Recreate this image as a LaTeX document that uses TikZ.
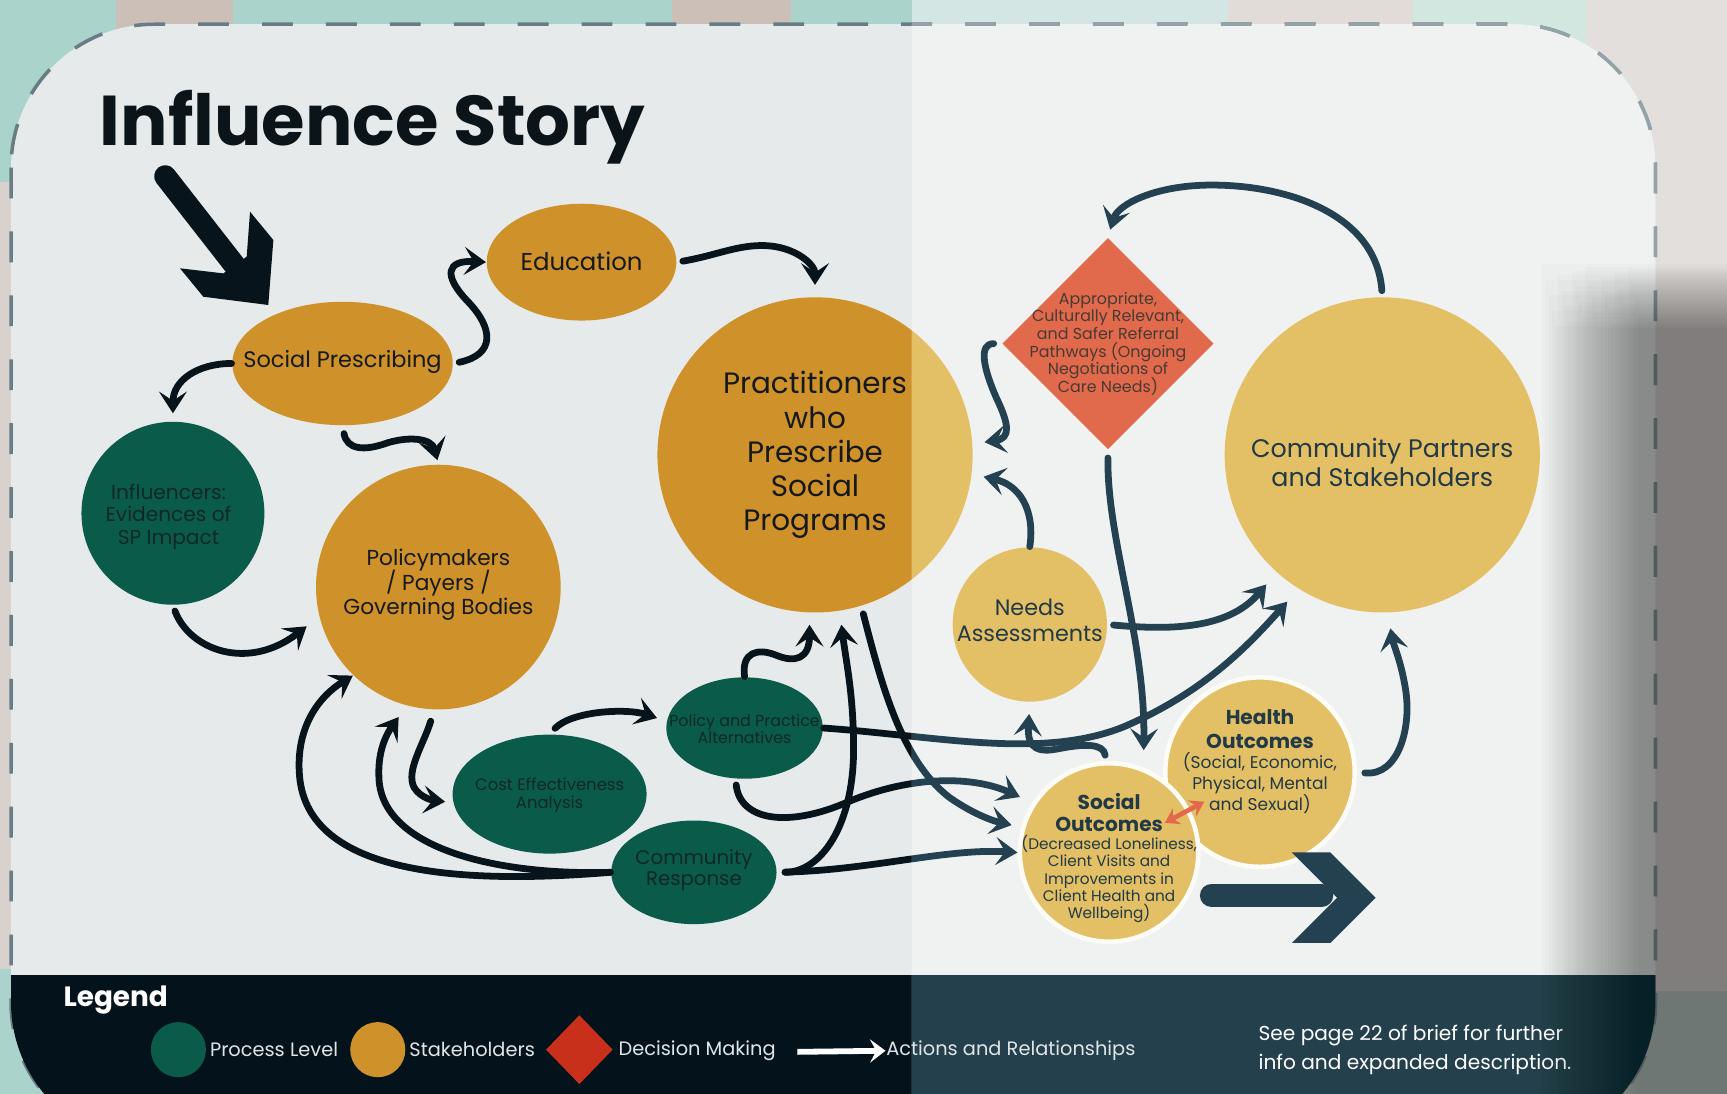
\documentclass[tikz,border=0pt]{standalone}
\usepackage{fontspec}
\setmainfont{Poppins}
\usetikzlibrary{arrows.meta,shapes.geometric}
\lineskiplimit=-10pt

% left half of the sheet (darker print)
\definecolor{panelL}{HTML}{E7EAEA}
\definecolor{bandL}{HTML}{04131B}
\definecolor{stkL}{HTML}{CF922B}
\definecolor{inkL}{HTML}{07141B}
\definecolor{onstkL}{HTML}{15191B}
\definecolor{dashL}{HTML}{687C84}
% right half of the sheet (washed out)
\definecolor{panelR}{HTML}{F0F2F1}
\definecolor{bandR}{HTML}{23404C}
\definecolor{stkR}{HTML}{E3BF65}
\definecolor{inkR}{HTML}{234150}
\definecolor{onstkR}{HTML}{213A46}
\definecolor{dashR}{HTML}{95A3A8}
% fixed colours
\definecolor{procfill}{HTML}{0B5B4A}
\definecolor{onproc}{HTML}{0E2826}
\definecolor{decfill}{HTML}{E06A4B}
\definecolor{ondec}{HTML}{4A3A34}
\definecolor{pairred}{HTML}{E4694B}
\definecolor{legred}{HTML}{C8301C}
\definecolor{legtext}{HTML}{E1E5E7}
\definecolor{titleink}{HTML}{0A1419}
% tiles round the sheet
\definecolor{tileteal}{HTML}{A9D3CB}
\definecolor{tilebeige}{HTML}{CBBFB8}
\definecolor{tilelight}{HTML}{D3E6E3}
\definecolor{tilegrey}{HTML}{E2DCD9}
\definecolor{tilegreen}{HTML}{D1E7DF}
\definecolor{tilepale}{HTML}{E3DFDD}
\definecolor{tilesand}{HTML}{D8D1CD}

\tikzset{
  stake/.style={ellipse, fill=stk, inner sep=0pt},
  proc/.style={ellipse, fill=procfill, inner sep=0pt},
  decide/.style={diamond, fill=decfill, inner sep=0pt},
  outcome/.style={circle, fill=stk, draw=white!94!stk, line width=1.2pt, inner sep=0pt},
  txt/.style={align=center, inner sep=0pt, text=onstk},
  link/.style={draw=ink, line width=1.75pt, line cap=round,
    -{Stealth[length=5.6pt,width=7.2pt,inset=2.4pt]}},
  pair/.style={draw=pairred, line width=1.2pt,
    {Stealth[length=3.6pt,width=4.6pt,inset=1.3pt]}-{Stealth[length=3.6pt,width=4.6pt,inset=1.3pt]}},
  legtxt/.style={anchor=west, inner sep=0pt, text=legtext, font=\fontsize{5}{6}\selectfont},
}

% the whole sheet, drawn once per half
\newcommand\storyscene{%
  % sheet, dashed edge and legend band
  \fill[panelbg, rounded corners=1.3cm] (10,22) rectangle (1503,1040);
  \draw[dashc, line width=0.9pt, dash pattern=on 0.28cm off 0.3cm, rounded corners=1.3cm] (10,22) rectangle (1503,1040);
  \begin{scope}
    \clip[rounded corners=1.3cm] (10,22) rectangle (1503,1040);
    \fill[band] (0,885) rectangle (1568,1100);
  \end{scope}
  % title and the way in
  \node[anchor=base west, inner sep=0pt, text=titleink, font=\fontsize{18.2}{20}\selectfont\bfseries] (title) at (90,132) {Influence Story};
  \coordinate (bigtail) at (150,160);
  \draw[ink, line width=5.7pt, line cap=round] (bigtail) -- (214,242);
  \fill[ink] (243.6,276.9) -- (184.6,269.4) -- (163.4,243.6) -- (202.8,248.2) -- (224,233) -- (227,192.2) -- (248.2,217.9) -- cycle;
  % stakeholders
  \node[stake, minimum width=1.72cm, minimum height=1.06cm] (edu) at (528,238) {};
  \node[stake, minimum width=2cm, minimum height=1.12cm] (sp) at (311,330) {};
  \node[stake, minimum size=2.22cm] (pol) at (398,533) {};
  \node[stake, minimum size=2.86cm] (prac) at (740,413) {};
  \node[stake, minimum size=2.86cm] (cps) at (1255,413) {};
  \node[stake, minimum size=1.4cm] (needs) at (935,567) {};
  \node[outcome, minimum size=1.72cm] (ho) at (1144,701) {};
  \node[outcome, minimum size=1.62cm] (so) at (1007,774) {};
  % process level
  \node[proc, minimum size=1.66cm] (infl) at (157,466) {};
  \node[proc, minimum width=1.42cm, minimum height=0.92cm] (pp) at (676,661) {};
  \node[proc, minimum width=1.76cm, minimum height=1.08cm] (ce) at (499,721) {};
  \node[proc, minimum width=1.5cm, minimum height=0.94cm] (cr) at (630,792) {};
  % decision making
  \node[decide, minimum size=1.92cm] (diam) at (1006,312) {};
  % actions and relationships
  \draw[link, shorten <=1.5pt] (sp.east) .. controls (450,322) and (448,298) .. (425,274) .. controls (402,250) and (405,236) .. (edu.west);
  \draw[link, shorten <=1.5pt, shorten >=3pt] (edu.east) .. controls (650,232) and (670,222) .. (695,223) .. controls (722,224) and (740,240) .. (prac.north);
  \draw[link, shorten >=2pt] (sp.west) .. controls (180,330) and (157,345) .. (infl.north);
  \draw[link, shorten <=2pt, shorten >=1pt] (sp.south) .. controls (315,408) and (330,410) .. (352,402) .. controls (372,396) and (392,398) .. (pol.north);
  \draw[link, shorten <=1.5pt, shorten >=4pt] (infl.south) .. controls (172,590) and (225,610) .. (pol.194);
  \draw[link] (cr.west) .. controls (420,803) and (280,795) .. (272,705) .. controls (268,660) and (290,632) .. (pol.226);
  \draw[link, shorten >=3.5pt] (cr.west) .. controls (450,795) and (345,770) .. (344,705) .. controls (343,680) and (352,665) .. (pol.255);
  \draw[link, shorten <=3pt, shorten >=2pt] (pol.268) .. controls (385,675) and (368,700) .. (376,715) .. controls (382,725) and (395,727) .. (ce.185);
  \draw[link, shorten <=2pt, shorten >=2.5pt] (ce.north) .. controls (520,645) and (570,643) .. (pp.175);
  \draw[link, shorten >=3pt] (pp.north) .. controls (673,592) and (688,588) .. (705,595) .. controls (722,602) and (735,598) .. (prac.268);
  \draw[link, shorten <=2pt, shorten >=3.5pt] (cr.east) .. controls (745,792) and (775,750) .. (775,680) .. controls (775,630) and (768,600) .. (prac.279);
  \draw[link, shorten <=2pt, shorten >=2.5pt] (prac.287) .. controls (800,620) and (818,690) .. (862,724) .. controls (882,738) and (900,745) .. (so.164);
  \draw[link, shorten <=1.5pt, shorten >=3.5pt] (pp.260) .. controls (672,745) and (715,752) .. (770,728) .. controls (830,703) and (885,705) .. (so.147);
  \draw[link, shorten <=2pt] (cr.east) .. controls (790,790) and (860,770) .. (so.west);
  \draw[link, shorten >=4.3pt] (pp.east) .. controls (850,668) and (945,690) .. (1020,660) .. controls (1090,630) and (1130,590) .. (cps.238);
  \draw[link, shorten <=1.5pt, shorten >=4pt] (needs.east) .. controls (1060,572) and (1115,572) .. (cps.228);
  \draw[link, shorten <=1.5pt, shorten >=3pt] (so.92) .. controls (1002,675) and (985,675) .. (960,680) .. controls (935,685) and (933,672) .. (needs.south);
  \draw[link, shorten >=3pt] (needs.north) .. controls (940,462) and (925,440) .. (prac.353);
  \draw[link, shorten <=2pt, shorten >=3pt] (diam.west) .. controls (888,312) and (893,335) .. (905,362) .. controls (916,385) and (918,398) .. (prac.4);
  \draw[link, shorten <=1.5pt, shorten >=2pt] (cps.north) .. controls (1250,195) and (1170,168) .. (1100,168) .. controls (1050,168) and (1015,185) .. (diam.north);
  \draw[link, shorten <=2pt, shorten >=4.5pt] (diam.south) .. controls (1005,490) and (1040,580) .. (so.68);
  \draw[link, shorten <=2pt, shorten >=4pt] (ho.east) .. controls (1270,705) and (1282,660) .. (1276,625) .. controls (1272,600) and (1265,585) .. (cps.272);
  \draw[pair, shorten <=16.3pt, shorten >=16.3pt] (so.center) -- (ho.center);
  % the way out
  \coordinate (outtail) at (1100,813);
  \draw[ink, line width=6pt, line cap=round] (outtail) -- (1200,813);
  \fill[ink] (1173,774) -- (1208,774) -- (1249,815) -- (1208,856) -- (1173,856) -- (1214,815) -- cycle;
  % labels
  \node[txt, font=\fontsize{6.3}{7.5}\selectfont] (edu-t) at (528,237) {Education};
  \node[txt, font=\fontsize{5.8}{7.3}\selectfont] (sp-t) at (311,329) {Social Prescribing};
  \node[txt, text=onproc, font=\fontsize{5.2}{5.8}\selectfont] (infl-t) at (153,469) {Influencers:\\Evidences of\\SP Impact};
  \node[txt, font=\fontsize{5.6}{6.3}\selectfont] (pol-t) at (398,531) {Policymakers\\/ Payers /\\Governing Bodies};
  \node[txt, font=\fontsize{7.6}{8.8}\selectfont] (prac-t) at (740,413) {Practitioners\\who\\Prescribe\\Social\\Programs};
  \node[txt, text=ondec, font=\fontsize{4.1}{4.55}\selectfont] (diam-t) at (1006,312) {Appropriate,\\Culturally Relevant,\\and Safer Referral\\Pathways (Ongoing\\Negotiations of\\Care Needs)};
  \node[txt, font=\fontsize{6.55}{7.4}\selectfont] (cps-t) at (1255,420) {Community Partners\\and Stakeholders};
  \node[txt, font=\fontsize{5.75}{6.8}\selectfont] (needs-t) at (935,563) {Needs\\Assessments};
  \node[txt, text=onproc, font=\fontsize{4.1}{4.55}\selectfont] (pp-t) at (676,662) {Policy and Practice\\Alternatives};
  \node[txt, text=onproc, font=\fontsize{4.25}{4.8}\selectfont] (ce-t) at (499,722) {Cost Effectiveness\\Analysis};
  \node[txt, text=onproc, font=\fontsize{5.1}{5.4}\selectfont] (cr-t) at (630,790) {Community\\Response};
  \node[txt, font=\fontsize{5.2}{5.7}\selectfont\bfseries] (so-h) at (1007,738) {Social\\Outcomes};
  \node[txt, font=\fontsize{3.95}{4.5}\selectfont] (so-t) at (1007,798) {(Decreased Loneliness,\\Client Visits and\\Improvements in\\Client Health and\\Wellbeing)};
  \node[txt, font=\fontsize{5.2}{6}\selectfont\bfseries] (ho-h) at (1144,662) {Health\\Outcomes};
  \node[txt, font=\fontsize{4.4}{5.3}\selectfont] (ho-t) at (1144,711) {(Social, Economic,\\Physical, Mental\\and Sexual)};
}

\begin{document}
\begin{tikzpicture}[x=0.01cm, y=-0.01cm]
\useasboundingbox (0,0) rectangle (1568,993);
\clip (0,0) rectangle (1568,993);

% tiles round the sheet
\fill[tilepale] (0,0) rectangle (1568,993);
\fill[tileteal] (0,0) rectangle (105,165);
\fill[tilebeige] (105,0) rectangle (212,45);
\fill[tileteal] (212,0) rectangle (610,45);
\fill[tilebeige] (610,0) rectangle (718,45);
\fill[tileteal] (718,0) rectangle (828,45);
\fill[tilelight] (828,0) rectangle (1115,45);
\fill[tilegrey] (1115,0) rectangle (1283,45);
\fill[tilegreen] (1283,0) rectangle (1440,45);
\fill[tilesand] (0,165) rectangle (40,880);
\fill[tileteal] (0,880) rectangle (90,993);
\fill[tilegreen!80!gray] (1400,900) rectangle (1568,993);

% left half
\colorlet{panelbg}{panelL}\colorlet{band}{bandL}\colorlet{stk}{stkL}
\colorlet{ink}{inkL}\colorlet{onstk}{onstkL}\colorlet{dashc}{dashL}
\storyscene

% right half
\begin{scope}
  \clip (828,0) rectangle (1568,1100);
  \colorlet{panelbg}{panelR}\colorlet{band}{bandR}\colorlet{stk}{stkR}
  \colorlet{ink}{inkR}\colorlet{onstk}{onstkR}\colorlet{dashc}{dashR}
  \storyscene
\end{scope}

% legend
\node[anchor=base west, inner sep=0pt, text=white, font=\fontsize{7.2}{8}\selectfont\bfseries] (legend) at (57,914) {Legend};
\node[proc, minimum size=0.5cm] (lproc) at (162,953) {};
\node[legtxt] (lproc-t) at (190,953) {Process Level};
\node[ellipse, fill=stkL, minimum size=0.5cm, inner sep=0pt] (lstk) at (343,953) {};
\node[legtxt] (lstk-t) at (371,953) {Stakeholders};
\node[diamond, fill=legred, minimum width=0.61cm, minimum height=0.63cm, inner sep=0pt] (ldec) at (526,953) {};
\node[legtxt] (ldec-t) at (561,954) {Decision Making};
\node[legtxt] (lact-t) at (804,954) {Actions and Relationships};
\coordinate (lact) at (724,955);
\draw[white, line width=1.5pt, -{Stealth[length=4pt,width=6pt,inset=1.6pt]}] (lact) -- (lact-t.west);
\node[legtxt, align=left, text=white, font=\fontsize{5.2}{7.4}\selectfont] (note) at (1142,953) {See page 22 of brief for further\\info and expanded description.};

% shadow falling on the right edge
\foreach \i [evaluate=\i as \top using {240+2*mod(7*\i,30)}] in {0,...,29}
  \fill[black, opacity=0.0158] (1400+3*\i,\top) rectangle (1568,1000);
\end{tikzpicture}
\end{document}
